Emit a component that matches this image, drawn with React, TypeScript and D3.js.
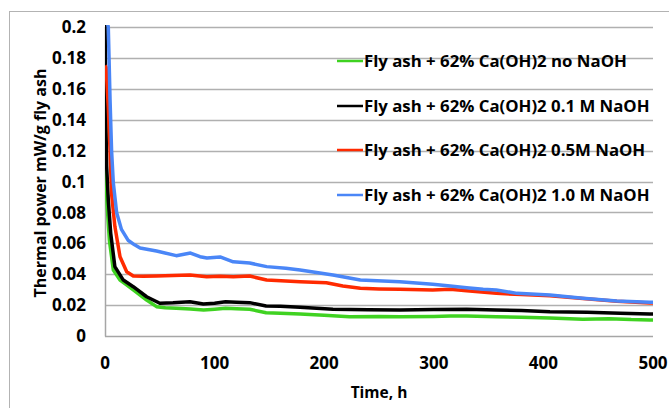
import React, { useEffect, useRef } from 'react';
import * as d3 from 'd3';

// hours
const greenT = [0, 0.6, 1, 2, 4, 7.6, 13.7, 20, 25.8, 32, 38, 47, 55, 65, 78, 90, 100, 110, 120, 132, 147, 160, 178, 200, 223, 250, 269, 300, 315, 330, 357, 380, 406, 436, 460, 480, 497, 500];
const greenV = [0.148, 0.148, 0.101, 0.0837, 0.062, 0.0427, 0.0362, 0.033, 0.0298, 0.0265, 0.0233, 0.019, 0.0183, 0.0179, 0.0175, 0.0168, 0.0173, 0.0179, 0.0176, 0.0173, 0.0151, 0.0148, 0.0142, 0.0135, 0.0125, 0.0127, 0.0125, 0.0127, 0.0129, 0.0129, 0.0125, 0.0122, 0.0116, 0.0108, 0.0112, 0.0106, 0.0104, 0.0104];

const blackT = [0, 0.8, 1.5, 3, 5.2, 9, 16.7, 25.8, 38, 50, 62, 77.5, 89.7, 100, 110, 120, 132, 147, 160, 178, 208, 240, 269, 300, 330, 357, 380, 406, 440, 470, 497, 500];
const blackV = [0.21, 0.14, 0.11, 0.088, 0.0666, 0.0449, 0.0362, 0.0319, 0.0254, 0.0212, 0.0215, 0.0222, 0.0207, 0.0212, 0.0222, 0.0219, 0.0216, 0.0194, 0.0192, 0.0186, 0.0173, 0.017, 0.0168, 0.0171, 0.0173, 0.0168, 0.0165, 0.0157, 0.0154, 0.0147, 0.0142, 0.0142];

const redT = [0, 1, 3, 4.6, 6, 9, 13.7, 19.8, 25.8, 35, 47, 62, 77.5, 92.8, 105, 117, 132, 147.5, 165, 178, 202, 217, 233, 250, 269, 299, 315, 330, 357, 380, 406, 436, 467, 497, 500];
const redV = [0.175, 0.174, 0.148, 0.12, 0.092, 0.071, 0.0513, 0.0416, 0.0388, 0.0386, 0.0388, 0.0392, 0.0395, 0.0384, 0.0386, 0.0384, 0.0388, 0.0362, 0.0356, 0.0351, 0.0345, 0.0324, 0.0309, 0.0305, 0.0302, 0.0298, 0.0302, 0.0293, 0.0276, 0.0268, 0.026, 0.0242, 0.0225, 0.0214, 0.0214];

const blueT = [0, 3, 4.6, 6, 7.6, 10.6, 15, 21, 27, 32, 47, 65, 78, 86.7, 93, 105, 117, 132, 147.5, 165, 178, 208, 233, 269, 299, 315, 330, 345, 357, 376, 406, 436, 467, 497, 500];
const blueV = [0.21, 0.2, 0.153, 0.12, 0.099, 0.08, 0.069, 0.062, 0.059, 0.057, 0.055, 0.052, 0.0537, 0.0513, 0.0505, 0.0512, 0.048, 0.0472, 0.0449, 0.0438, 0.0427, 0.0395, 0.0362, 0.0351, 0.0335, 0.0324, 0.0313, 0.0302, 0.0298, 0.0276, 0.0265, 0.0244, 0.0226, 0.0218, 0.0218];

const seriesNames = [
  'Fly ash + 62% Ca(OH)2 no NaOH',
  'Fly ash + 62% Ca(OH)2 0.1 M NaOH',
  'Fly ash + 62% Ca(OH)2 0.5M NaOH',
  'Fly ash + 62% Ca(OH)2 1.0 M NaOH',
];
const seriesColors = ['#3fd221', '#000000', '#ff2a00', '#4a86f7'];
const xTicks = [0, 100, 200, 300, 400, 500];
const yTicks = [0, 0.02, 0.04, 0.06, 0.08, 0.1, 0.12, 0.14, 0.16, 0.18, 0.2];

export default function App() {
  const ref = useRef<SVGSVGElement>(null);

  useEffect(() => {
    const width = 669;
    const height = 408;
    const left = 105;
    const right = 653;
    const top = 27;
    const bottom = 336;
    const font = '"Open Sans", sans-serif';

    const svg = d3.select(ref.current);
    svg.selectAll('*').remove();

    const x = d3.scaleLinear().domain([0, 500]).range([left, right]);
    const y = d3.scaleLinear().domain([0, 0.2]).range([bottom, top]);

    // chart frame
    svg
      .append('rect')
      .attr('x', 9.5)
      .attr('y', 11.5)
      .attr('width', width)
      .attr('height', height)
      .attr('fill', '#fff')
      .attr('stroke', '#b3b3b3');

    svg
      .append('defs')
      .append('clipPath')
      .attr('id', 'plot-clip')
      .append('rect')
      .attr('x', left)
      .attr('y', top - 2)
      .attr('width', right - left)
      .attr('height', bottom - top + 2);

    // gridlines
    svg
      .append('g')
      .selectAll('line')
      .data(yTicks.slice(1))
      .join('line')
      .attr('x1', left)
      .attr('x2', right)
      .attr('y1', (d) => Math.round(y(d)) + 0.5)
      .attr('y2', (d) => Math.round(y(d)) + 0.5)
      .attr('stroke', '#b0b0b0')
      .attr('stroke-width', 1.5);

    // axes
    svg
      .append('line')
      .attr('x1', left + 0.5)
      .attr('x2', left + 0.5)
      .attr('y1', top)
      .attr('y2', bottom + 0.5)
      .attr('stroke', '#a6a6a6')
      .attr('stroke-width', 1.5);
    svg
      .append('line')
      .attr('x1', left)
      .attr('x2', right)
      .attr('y1', bottom + 0.5)
      .attr('y2', bottom + 0.5)
      .attr('stroke', '#a6a6a6')
      .attr('stroke-width', 1.5);

    svg
      .append('g')
      .selectAll('text')
      .data(yTicks)
      .join('text')
      .attr('x', 86)
      .attr('y', (d) => y(d))
      .attr('dy', '0.36em')
      .attr('text-anchor', 'end')
      .attr('font-family', font)
      .attr('font-weight', 'bold')
      .attr('font-size', 17)
      .text((d) => String(d));

    svg
      .append('g')
      .selectAll('text')
      .data(xTicks)
      .join('text')
      .attr('x', (d) => x(d))
      .attr('y', 363)
      .attr('dy', '0.36em')
      .attr('text-anchor', 'middle')
      .attr('font-family', font)
      .attr('font-weight', 'bold')
      .attr('font-size', 17)
      .text((d) => String(d));

    svg
      .append('text')
      .attr('x', 379)
      .attr('y', 392)
      .attr('dy', '0.36em')
      .attr('text-anchor', 'middle')
      .attr('font-family', font)
      .attr('font-weight', 'bold')
      .attr('font-size', 15.5)
      .text('Time, h');

    svg
      .append('text')
      .attr('transform', 'translate(40,183) rotate(-90)')
      .attr('dy', '0.36em')
      .attr('text-anchor', 'middle')
      .attr('font-family', font)
      .attr('font-weight', 'bold')
      .attr('font-size', 16)
      .text('Thermal power mW/g fly ash');

    const all = [
      [greenT, greenV],
      [blackT, blackV],
      [redT, redV],
      [blueT, blueV],
    ];

    const plot = svg.append('g').attr('clip-path', 'url(#plot-clip)');
    all.forEach(([ts, vs], i) => {
      const pts: [number, number][] = ts.map((t, k) => [x(t), y(vs[k])]);
      plot
        .append('path')
        .attr('fill', 'none')
        .attr('stroke', seriesColors[i])
        .attr('stroke-width', 3.5)
        .attr('stroke-linejoin', 'round')
        .attr('d', d3.line()(pts));
    });

    // legend
    const legendY = [61, 106, 150, 195];
    const lg = svg.append('g');
    seriesNames.forEach((name, i) => {
      lg.append('line')
        .attr('x1', 337)
        .attr('x2', 363)
        .attr('y1', legendY[i])
        .attr('y2', legendY[i])
        .attr('stroke', seriesColors[i])
        .attr('stroke-width', 2.5);
      lg.append('text')
        .attr('x', 364)
        .attr('y', legendY[i])
        .attr('dy', '0.36em')
        .attr('font-family', font)
        .attr('font-weight', 'bold')
        .attr('font-size', 16.8)
        .text(name);
    });
  }, []);

  return (
    <svg
      ref={ref}
      width={669}
      height={408}
      style={{ display: 'block', position: 'absolute', left: 0, top: 0 }}
    />
  );
}
